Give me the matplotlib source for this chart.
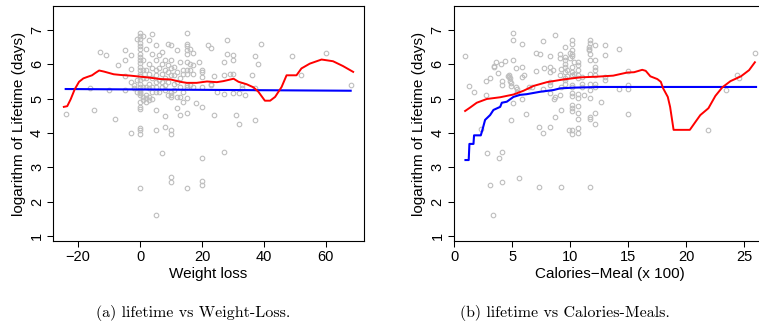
import numpy as np
import matplotlib
matplotlib.use("Agg")
import matplotlib.pyplot as plt

plt.rcParams['font.family'] = ['Liberation Sans', 'DejaVu Sans']

# scatter: weight loss vs log lifetime
wl_pts = np.array([
    (-24, 4.55), (-16, 5.30), (-15, 4.68), (-13, 6.35), (-11, 6.28), (-10, 5.26),
    (-8, 4.40), (-7, 5.97), (-5, 6.42), (-5, 6.12), (-5, 5.66), (-5, 5.26),
    (-3, 6.28), (-3, 5.85), (-3, 5.49), (-3, 3.99), (-2, 5.30), (-2, 5.40),
    (-1, 6.73), (-1, 5.55), (-1, 5.20),
    (0, 6.92), (0, 6.83), (0, 6.73), (0, 6.62), (0, 6.54), (0, 6.44), (0, 6.31),
    (0, 6.22), (0, 6.12), (0, 6.03), (0, 5.93), (0, 5.83), (0, 5.73), (0, 5.65),
    (0, 5.54), (0, 5.44), (0, 5.34), (0, 5.25), (0, 5.20), (0, 5.15), (0, 5.10),
    (0, 4.91), (0, 4.76), (0, 4.69), (0, 4.13), (0, 4.08), (0, 3.98), (0, 2.40),
    (1, 6.83), (1, 6.12), (1, 5.83), (1, 5.59), (1, 5.34), (1, 5.05), (1, 4.96),
    (2, 6.46), (2, 5.83), (2, 5.59), (2, 5.34), (2, 5.10), (2, 5.01), (2, 4.91),
    (3, 6.70), (3, 6.02), (3, 5.73), (3, 5.44), (3, 5.30), (3, 5.05), (3, 4.96),
    (4, 6.87), (4, 6.31), (4, 5.88), (4, 5.59), (4, 5.34), (4, 5.20), (4, 4.98),
    (5, 6.55), (5, 6.12), (5, 5.83), (5, 5.68), (5, 5.49), (5, 5.34), (5, 5.20),
    (5, 4.67), (5, 4.09), (5, 1.62),
    (6, 6.26), (6, 5.88), (6, 5.54), (6, 5.20),
    (7, 6.36), (7, 6.02), (7, 5.73), (7, 5.49), (7, 5.34), (7, 3.41),
    (8, 6.12), (8, 5.83), (8, 5.59), (8, 5.39), (8, 5.25), (8, 4.48), (8, 4.18),
    (9, 6.60), (9, 5.97), (9, 5.78), (9, 5.49), (9, 5.10),
    (10, 6.55), (10, 6.12), (10, 5.88), (10, 5.68), (10, 5.20), (10, 5.10),
    (10, 5.05), (10, 4.10), (10, 3.98), (10, 2.71), (10, 2.57),
    (11, 5.93), (11, 5.68), (11, 5.44), (11, 5.25),
    (12, 6.43), (12, 5.78), (12, 5.49), (12, 5.05), (12, 4.72),
    (13, 6.07), (13, 5.59), (13, 5.34), (13, 5.05), (13, 4.52),
    (14, 5.83), (14, 5.73), (14, 5.20), (14, 4.91),
    (15, 6.91), (15, 6.60), (15, 6.53), (15, 6.41), (15, 6.31), (15, 6.07),
    (15, 5.83), (15, 5.73), (15, 5.39), (15, 5.34), (15, 5.01), (15, 4.57), (15, 2.40),
    (16, 6.46), (16, 6.02), (16, 5.83), (16, 5.39),
    (17, 6.33), (17, 5.97), (17, 5.73), (17, 5.34),
    (18, 4.88), (19, 6.07),
    (20, 5.83), (20, 5.78), (20, 5.64), (20, 5.34), (20, 4.76), (20, 3.26),
    (20, 2.59), (20, 2.49),
    (22, 6.57), (23, 6.49), (23, 5.44), (23, 5.40), (24, 5.66), (24, 4.53),
    (25, 5.19), (27, 6.07), (27, 5.68), (27, 5.13), (27, 3.44), (28, 6.70),
    (28, 6.31), (29, 5.73), (30, 5.73), (30, 6.26), (30, 6.13), (30, 5.17),
    (31, 4.53), (32, 4.27), (32, 5.17), (33, 5.39), (33, 5.32), (34, 5.11),
    (36, 5.68), (37, 6.24), (37, 4.38), (37, 5.30), (38, 6.00), (39, 6.60),
    (49, 6.24), (52, 5.68), (60, 6.34), (68, 5.41),
])

# linear fit (blue) and smooth fit (red), weight loss panel
wl_lin_x = [-24, 68]
wl_lin_y = [5.28, 5.23]
wl_smooth_x = [-24.6, -23.5, -22.4, -21.1, -19.7, -18.3, -17.1, -15.5, -14.4, -13.2,
               -11.7, -10.1, -8.5, -6.3, -3.1, 0.1, 3.3, 6.5, 9.8, 13.0, 15.1, 18.3,
               21.6, 24.8, 26.9, 30.2, 31.8, 34.4, 36.6, 38.2, 40.3, 42.0, 43.6, 45.7,
               47.3, 50.5, 52.1, 54.8, 58.6, 62.3, 65.5, 68.8]
wl_smooth_y = [4.76, 4.78, 4.98, 5.27, 5.49, 5.59, 5.63, 5.68, 5.75, 5.82,
               5.79, 5.75, 5.71, 5.69, 5.67, 5.64, 5.61, 5.57, 5.56, 5.49, 5.46, 5.46,
               5.50, 5.48, 5.51, 5.58, 5.49, 5.42, 5.33, 5.20, 4.94, 4.94, 5.05, 5.34,
               5.68, 5.68, 5.88, 6.02, 6.14, 6.09, 5.95, 5.78]

# scatter: calories per meal (x 100) vs log lifetime
cal_pts = np.array([
    (0.98, 6.24), (1.29, 5.36), (1.72, 5.18), (2.36, 4.12), (2.76, 5.11), (2.79, 5.52),
    (2.87, 3.41), (3.05, 2.49), (3.13, 5.59), (3.39, 1.62), (3.42, 5.93), (3.45, 5.95),
    (3.62, 6.07), (3.82, 5.75), (3.91, 3.26), (4.05, 6.02), (4.11, 5.50), (4.11, 5.41),
    (4.14, 3.44), (4.14, 2.57), (4.40, 6.09), (4.65, 5.66), (4.72, 5.62), (4.80, 5.60),
    (4.85, 5.52), (4.70, 5.70), (4.92, 5.45), (4.89, 4.38), (4.89, 5.36), (5.11, 6.92),
    (5.11, 6.70), (5.11, 6.12), (5.11, 4.88), (5.34, 5.88), (5.34, 5.33), (5.40, 5.20),
    (5.45, 5.28), (5.63, 2.70), (5.83, 6.60), (5.83, 5.93), (5.83, 5.64), (5.89, 4.98),
    (6.06, 5.68), (6.21, 4.55), (6.41, 5.33), (6.72, 5.33), (7.07, 6.33), (7.41, 6.31),
    (7.07, 5.81), (7.27, 4.18), (7.30, 2.41), (7.64, 6.68), (7.64, 5.27), (7.64, 3.99),
    (7.70, 5.88), (8.22, 6.24), (8.22, 5.93), (8.22, 5.78), (8.22, 5.49), (8.22, 5.39),
    (8.22, 5.17), (8.22, 4.18), (8.48, 5.83), (8.60, 4.98), (8.70, 5.05), (8.71, 6.86),
    (8.71, 4.47), (9.08, 6.31), (9.08, 6.17), (9.08, 5.68), (9.08, 5.10), (9.20, 5.85),
    (9.20, 5.34), (9.20, 4.67), (9.22, 2.41), (9.57, 6.51), (9.57, 6.22), (9.57, 6.12),
    (9.57, 6.02), (9.57, 5.93), (9.57, 5.78), (9.57, 5.59), (9.57, 5.54), (9.57, 5.44),
    (9.70, 5.83), (9.70, 5.66), (9.86, 4.09), (10.0, 6.33), (10.0, 6.17), (10.14, 4.09),
    (10.17, 6.70), (10.17, 6.60), (10.17, 6.41), (10.17, 6.31), (10.17, 6.24),
    (10.17, 5.93), (10.17, 5.78), (10.17, 5.68), (10.17, 5.39), (10.17, 5.34),
    (10.17, 5.15), (10.17, 5.07), (10.17, 4.81), (10.17, 4.72), (10.17, 4.65),
    (10.17, 3.97), (10.34, 6.07), (10.34, 5.73),
    (10.69, 6.07), (10.69, 5.97), (10.69, 5.83), (10.69, 5.68), (10.69, 5.59),
    (10.69, 5.13), (10.69, 5.03), (10.69, 4.78), (10.69, 4.57), (10.69, 4.42),
    (10.69, 4.13), (10.69, 3.99), (11.0, 5.64), (11.0, 5.44), (11.0, 5.33),
    (11.2, 5.10), (11.58, 6.41), (11.58, 6.46), (11.58, 6.51),
    (11.72, 6.72), (11.72, 6.62), (11.72, 6.31), (11.72, 6.12), (11.72, 5.73),
    (11.72, 5.42), (11.72, 5.25), (11.72, 5.01), (11.72, 4.47), (11.72, 4.42),
    (11.72, 2.41), (12.16, 6.55), (12.16, 6.12), (12.16, 5.93), (12.16, 5.83),
    (12.16, 5.68), (12.16, 5.44), (12.16, 5.33), (12.16, 4.57), (12.16, 4.26),
    (12.64, 4.91), (12.96, 6.55), (12.96, 6.26), (12.96, 5.64), (12.96, 5.54),
    (14.2, 6.46), (14.17, 5.27), (14.94, 5.81), (14.94, 5.41), (14.94, 5.28),
    (14.94, 4.55), (21.9, 4.09), (23.4, 5.25), (24.4, 5.68), (24.5, 5.59), (25.9, 6.34),
])

# monotone fit (blue) and smooth fit (red), calories panel
cal_mono_x = [0.98, 1.26, 1.32, 1.67, 1.72, 2.30, 2.44, 2.67, 3.10, 3.39, 3.97, 4.11,
              4.54, 5.11, 5.69, 6.26, 7.41, 8.56, 9.14, 10.29, 12.6, 26.0]
cal_mono_y = [3.21, 3.21, 3.68, 3.68, 3.93, 3.93, 4.09, 4.38, 4.52, 4.67, 4.76, 4.88,
              4.91, 5.05, 5.11, 5.13, 5.20, 5.25, 5.30, 5.32, 5.34, 5.34]
cal_smooth_x = [0.95, 1.38, 1.95, 2.82, 3.97, 5.11, 5.98, 6.84, 7.99, 9.43, 10.86, 12.3,
                13.7, 14.9, 15.5, 16.2, 16.5, 16.9, 17.5, 17.8, 18.0, 18.4, 18.6, 18.9,
                20.3, 20.8, 21.2, 21.9, 22.5, 23.1, 23.8, 24.7, 25.4, 25.9]
cal_smooth_y = [4.64, 4.74, 4.88, 4.99, 5.04, 5.12, 5.23, 5.37, 5.48, 5.56, 5.62, 5.64,
                5.67, 5.76, 5.77, 5.84, 5.81, 5.65, 5.57, 5.49, 5.30, 5.05, 4.76, 4.09,
                4.09, 4.33, 4.52, 4.72, 5.08, 5.33, 5.51, 5.65, 5.83, 6.06]

W, H = 759, 327
fig = plt.figure(figsize=(W / 100, H / 100), dpi=100)

ax1 = fig.add_axes([53 / W, 1 - 241 / H, 311 / W, 235 / H])
ax2 = fig.add_axes([453.5 / W, 1 - 241 / H, 313 / W, 235 / H])

grey = '#bebebe'
for ax, pts in ((ax1, wl_pts), (ax2, cal_pts)):
    ax.plot(pts[:, 0], pts[:, 1], 'o', ms=3.3, mfc='none', mec=grey, mew=0.8)

ax1.plot(wl_lin_x, wl_lin_y, color='blue', lw=1.5)
ax1.plot(wl_smooth_x, wl_smooth_y, color='red', lw=1.4)
ax2.plot(cal_mono_x, cal_mono_y, color='blue', lw=1.5, drawstyle='default')
ax2.plot(cal_smooth_x, cal_smooth_y, color='red', lw=1.4)

ax1.set_xlim(-28.1, 72.3)
ax2.set_xlim(-0.05, 26.9)
for ax in (ax1, ax2):
    ax.set_ylim(0.85, 7.7)
    ax.set_yticks([1, 2, 3, 4, 5, 6, 7])
    ax.set_ylabel('logarithm of Lifetime (days)', fontsize=11, labelpad=3)
    ax.tick_params(direction='out', length=4.5, width=0.75, labelsize=10.5, pad=2)
    for lab in ax.get_yticklabels():
        lab.set_rotation(90)
        lab.set_va('center')
    for s in ax.spines.values():
        s.set_linewidth(0.8)

ax1.set_xticks([-20, 0, 20, 40, 60])
ax1.set_xticklabels(['\u221220', '0', '20', '40', '60'])
ax2.set_xticks([0, 5, 10, 15, 20, 25])
ax1.set_xlabel('Weight loss', fontsize=11, labelpad=2)
ax2.set_xlabel('Calories\u2212Meal (x 100)', fontsize=11, labelpad=2)

fig.text(193 / W, 1 - 313 / H, '(a) lifetime vs Weight-Loss.', family='cmr10',
         fontsize=11.5, ha='center', va='center')
fig.text(565 / W, 1 - 313 / H, '(b) lifetime vs Calories-Meals.', family='cmr10',
         fontsize=11.5, ha='center', va='center')

fig.savefig('out.png', dpi=100)
